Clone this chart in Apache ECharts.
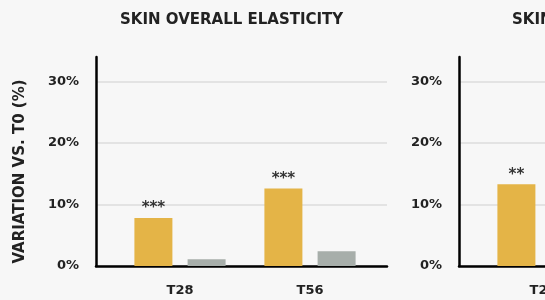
<!DOCTYPE html>
<html>
<head>
<meta charset="utf-8">
<script src="https://cdn.jsdelivr.net/npm/echarts@6/dist/echarts.min.js"></script>
<style>
html,body{margin:0;padding:0;background:#f7f7f7;}
#chart{width:545px;height:300px;}
</style>
</head>
<body>
<div id="chart"></div>
<script>
const titles = ['SKIN OVERALL ELASTICITY', 'SKIN FIRMNESS'];
const categories = ['T28', 'T56'];
const yTicks = [0, 10, 20, 30];
const activeP1 = [7.8, 12.6];
const placeboP1 = [1.1, 2.4];
const activeP2 = [13.3, 15.5];
const placeboP2 = [2.0, 3.0];
const sigP1 = ['***', '***'];
const sigP2 = ['**', '**'];

const YELLOW = '#E4B447';
const GRAY = '#A7AEAA';
const FONT = 'DejaVu Sans';
const panels = [
  {x: 96, title: titles[0], active: activeP1, placebo: placeboP1, sig: sigP1, name: true},
  {x: 459, title: titles[1], active: activeP2, placebo: placeboP2, sig: sigP2, name: false}
];
const YMAX = 34;
const grid = [], xAxis = [], yAxis = [], series = [], title = [];
panels.forEach((p, i) => {
  const g0 = grid.length;
  grid.push({left: p.x, width: 291, top: 57, bottom: 34, outerBoundsMode: 'none', containLabel: false});
  grid.push({left: p.x + 19, width: 260, top: 57, bottom: 34, outerBoundsMode: 'none', containLabel: false});
  xAxis.push({gridIndex: g0, type: 'value', min: 0, max: 1, axisLine: {show: true, onZero: false, lineStyle: {color: '#000', width: 2.5}},
    axisTick: {show: false}, axisLabel: {show: false}, splitLine: {show: false}});
  xAxis.push({gridIndex: g0 + 1, type: 'category', data: categories, axisLine: {show: false}, axisTick: {show: false},
    axisLabel: {margin: 18, color: '#222', fontFamily: FONT, fontWeight: 'bold', fontSize: 13}});
  yAxis.push({gridIndex: g0, type: 'value', min: 0, max: YMAX, interval: 10,
    axisLine: {show: true, lineStyle: {color: '#000', width: 2.5}}, axisTick: {show: false},
    axisLabel: {margin: 17, color: '#222', fontFamily: FONT, fontWeight: 'bold', fontSize: 13, showMaxLabel: false,
      formatter: v => yTicks.includes(v) ? v + '%' : ''},
    splitLine: {show: true, showMaxLine: false, lineStyle: {color: '#dcdcdc', width: 1.5}},
    name: p.name ? 'VARIATION VS. T0 (%)' : '', nameLocation: 'middle', nameGap: 68, nameRotate: 90,
    nameTextStyle: {color: '#222', fontFamily: FONT, fontWeight: 'bold', fontSize: 15, padding: [0, 20, 0, 0]}});
  yAxis.push({gridIndex: g0 + 1, type: 'value', min: 0, max: YMAX, show: false});
  const xi = xAxis.length - 1, yi = yAxis.length - 1;
  series.push({type: 'bar', xAxisIndex: xi, yAxisIndex: yi, data: p.active, barWidth: 38, barGap: '40%',
    itemStyle: {color: YELLOW},
    label: {show: true, position: 'top', distance: 2, color: '#333', fontSize: 15, fontWeight: 'bold', fontFamily: 'DejaVu Sans',
      formatter: d => p.sig[d.dataIndex]}});
  series.push({type: 'bar', xAxisIndex: xi, yAxisIndex: yi, data: p.placebo, barWidth: 38, barGap: '40%',
    itemStyle: {color: GRAY}});
  title.push({text: p.title, left: i === 0 ? 115 : 507, top: 8,
    textStyle: {color: '#222', fontFamily: FONT, fontWeight: 'bold', fontSize: 15}});
});

const chart = echarts.init(document.getElementById('chart'));
chart.setOption({backgroundColor: '#f7f7f7', animation: false, title, grid, xAxis, yAxis, series});
</script>
</body>
</html>
